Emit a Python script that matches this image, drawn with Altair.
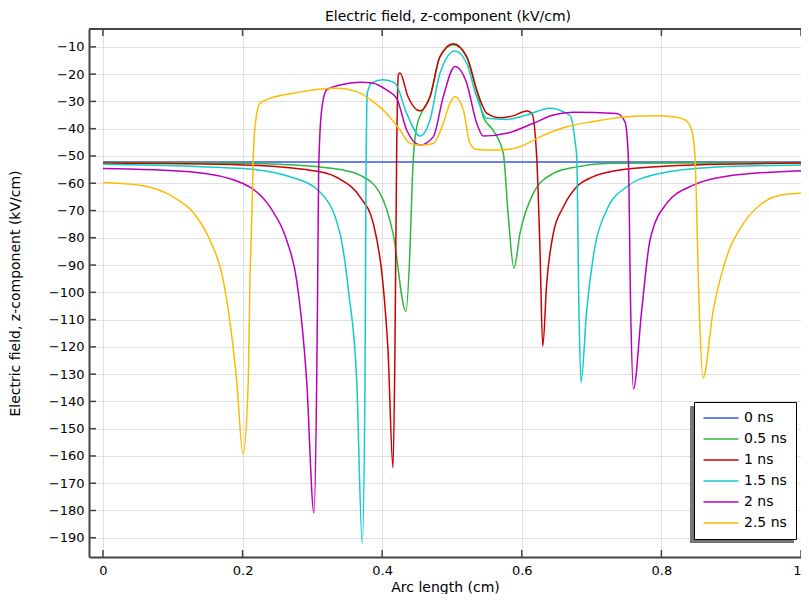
import altair as alt
import pandas as pd

series = ["0 ns", "0.5 ns", "1 ns", "1.5 ns", "2 ns", "2.5 ns"]
colors = ["#3355ee", "#2db83d", "#cc0000", "#11cccc", "#bb00bb", "#ffbb00"]

x_0 = [0.0, 0.5, 1.0]
y_0 = [-52.2, -52.2, -52.2]

x_05 = [0.0, 0.1, 0.2006, 0.31, 0.34, 0.368, 0.3968, 0.4155, 0.4341, 0.4398, 0.4437,
        0.4494, 0.4585, 0.4685, 0.4828, 0.5019, 0.5211, 0.5354, 0.5449, 0.5587, 0.5735,
        0.5807, 0.5888, 0.5974, 0.6165, 0.6452, 0.6787, 0.7264, 0.85, 1.0]
y_05 = [-52.4, -52.5, -52.7, -54.0, -55.0, -57.0, -63.6, -78.3, -107.0, -84.6, -55.0,
        -39.3, -33.1, -28.3, -13.6, -9.2, -13.8, -26.0, -35.7, -40.5, -49.0,
        -72.3, -91.2, -78.4, -63.7, -56.4, -54.0, -52.7, -52.6, -52.5]

x_1 = [0.0, 0.2006, 0.3109, 0.3395, 0.3682, 0.3872, 0.4011, 0.4083, 0.4155, 0.4183,
       0.4208, 0.4231, 0.4255, 0.437, 0.4542, 0.4685, 0.4828, 0.5019, 0.5211, 0.5354,
       0.5497, 0.5688, 0.5874, 0.607, 0.6142, 0.6213, 0.6261, 0.63, 0.6357, 0.6452,
       0.6595, 0.6787, 0.7024, 0.7503, 0.8457, 1.0]
y_1 = [-52.6, -53.3, -55.8, -58.5, -65.0, -74.7, -96.7, -121.0, -164.3, -121.0,
       -47.8, -20.3, -19.6, -28.3, -33.5, -28.3, -13.6, -8.9, -13.6, -25.8,
       -34.3, -36.0, -35.3, -33.5, -34.3, -50.0, -84.6, -119.8, -96.7, -78.3,
       -68.7, -61.3, -57.6, -54.8, -53.3, -52.6]

x_15 = [0.0, 0.2006, 0.2679, 0.3109, 0.3395, 0.352, 0.3635, 0.3715, 0.3754, 0.3768,
        0.3787, 0.385, 0.4011, 0.4183, 0.4351, 0.4542, 0.4685, 0.4828, 0.5043, 0.5211,
        0.5354, 0.5497, 0.5784, 0.607, 0.6404, 0.6595, 0.670, 0.6765, 0.6787, 0.6819,
        0.6848, 0.693, 0.7024, 0.7216, 0.7503, 0.798, 0.8696, 1.0]
y_15 = [-53.0, -54.6, -57.6, -63.2, -78.3, -100.0, -132.3, -192.0, -132.3, -58.9,
        -27.0, -23.3, -22.1, -23.3, -34.4, -42.7, -36.8, -19.7, -11.5, -16.0,
        -28.3, -36.2, -36.6, -35.0, -32.5, -33.8, -35.5, -45.0, -50.3, -106.6,
        -133.0, -106.6, -87.0, -69.9, -61.3, -56.4, -54.2, -53.3]

x_2 = [0.0, 0.1246, 0.2006, 0.2393, 0.2632, 0.2775, 0.2918, 0.3023, 0.3062, 0.3075,
       0.309, 0.3133, 0.3205, 0.3395, 0.3682, 0.3872, 0.4064, 0.4208, 0.4351, 0.4542,
       0.4732, 0.4875, 0.5043, 0.5211, 0.5354, 0.5449, 0.5784, 0.6165, 0.6452, 0.6738,
       0.736, 0.7479, 0.7526, 0.756, 0.760, 0.7718, 0.7837, 0.8076, 0.8457, 0.8935, 1.0]
y_2 = [-54.6, -55.8, -60.1, -68.7, -80.9, -95.6, -132.3, -180.9, -132.3, -100.0,
       -55.0, -33.1, -25.8, -24.0, -23.0, -23.3, -25.8, -28.9, -40.5, -46.0,
       -43.0, -28.3, -17.2, -23.3, -38.0, -42.7, -41.7, -38.0, -35.0, -34.0,
       -34.4, -37.5, -50.3, -106.6, -135.4, -106.6, -80.9, -67.4, -60.7, -57.4, -55.4]

x_25 = [0.0, 0.053, 0.1007, 0.1342, 0.1533, 0.1724, 0.1915, 0.2006, 0.2082, 0.2106,
        0.213, 0.2155, 0.2178, 0.2249, 0.2393, 0.2726, 0.3109, 0.3348, 0.3635, 0.3872,
        0.4064, 0.4255, 0.4398, 0.4542, 0.4732, 0.4875, 0.4971, 0.5043, 0.5162, 0.5258,
        0.5354, 0.5688, 0.5974, 0.6261, 0.6643, 0.7024, 0.7503, 0.7884, 0.8171, 0.8338,
        0.8434, 0.8481, 0.8543, 0.8596, 0.8743, 0.8935, 0.9173, 0.9413, 0.9699, 1.0]
y_25 = [-59.7, -60.7, -65.0, -72.3, -80.9, -95.6, -132.3, -159.3, -132.3, -95.6,
        -75.0, -50.0, -39.3, -30.7, -28.9, -27.0, -25.5, -25.2, -26.4, -30.1,
        -34.4, -40.5, -45.4, -46.0, -45.4, -38.0, -30.7, -28.3, -33.1, -45.4,
        -47.6, -47.8, -46.6, -43.0, -39.3, -37.4, -35.6, -35.3, -35.6, -36.8,
        -40.5, -50.3, -106.6, -131.5, -106.6, -87.0, -74.8, -68.0, -64.4, -63.7]

x_ticks = [0, 0.2, 0.4, 0.6, 0.8, 1.0]
y_ticks = [-10, -20, -30, -40, -50, -60, -70, -80, -90, -100, -110, -120, -130,
           -140, -150, -160, -170, -180, -190]

rows = []
for name, xs, ys in zip(series, [x_0, x_05, x_1, x_15, x_2, x_25],
                        [y_0, y_05, y_1, y_15, y_2, y_25]):
    for xv, yv in zip(xs, ys):
        rows.append({"series": name, "x": xv, "y": yv})
df = pd.DataFrame(rows)

W, H = 712, 528
FONT = "DejaVu Sans"
xscale = alt.Scale(domain=[-0.02, 1.0], nice=False, zero=False)
yscale = alt.Scale(domain=[-197.05, -3.45], nice=False, zero=False)

x_axis = alt.Axis(
    title="Arc length (cm)", values=x_ticks, format="~g", ticks=False,
    domainColor="#444", domainWidth=2, labelPadding=7, titlePadding=3,
    gridColor="#e0e0e0", labelFontSize=13, titleFontSize=14,
    labelColor="#000", titleColor="#000", titleFontWeight="normal",
    labelFont=FONT, titleFont=FONT)
y_axis = alt.Axis(
    title="Electric field, z-component (kV/cm)", values=y_ticks, ticks=False,
    domainColor="#444", domainWidth=2, labelPadding=5, titlePadding=26,
    gridColor="#e0e0e0", labelFontSize=13, titleFontSize=14,
    labelColor="#000", titleColor="#000", titleFontWeight="normal",
    labelFont=FONT, titleFont=FONT)

lines = alt.Chart(df).mark_line(strokeWidth=1.5, interpolate="monotone", clip=True).encode(
    x=alt.X("x:Q", scale=xscale, axis=x_axis),
    y=alt.Y("y:Q", scale=yscale, axis=y_axis),
    color=alt.Color("series:N", scale=alt.Scale(domain=series, range=colors),
                    legend=alt.Legend(
                        title=None, orient="none", legendX=605, legendY=373,
                        strokeColor="#000", fillColor="#fff", padding=9,
                        symbolType="M-5,0H5", symbolSize=49, symbolStrokeWidth=1.5,
                        symbolOffset=11, labelOffset=16, rowPadding=7,
                        labelFontSize=14, labelFont=FONT, labelColor="#000")),
)

xt = pd.DataFrame({"x": x_ticks})
yt = pd.DataFrame({"y": y_ticks})
one = pd.DataFrame({"a": [0]})

top_ticks = alt.Chart(xt).mark_rule(color="#444", strokeWidth=1.5).encode(
    x=alt.X("x:Q", scale=xscale, axis=x_axis), y=alt.value(0), y2=alt.value(7))
bottom_ticks = alt.Chart(xt).mark_rule(color="#444", strokeWidth=1.5).encode(
    x=alt.X("x:Q", scale=xscale, axis=x_axis), y=alt.value(H - 7), y2=alt.value(H))
left_ticks = alt.Chart(yt).mark_rule(color="#444", strokeWidth=1.5).encode(
    y=alt.Y("y:Q", scale=yscale, axis=y_axis), x=alt.value(0), x2=alt.value(7))
top_line = alt.Chart(one).mark_rule(color="#444", strokeWidth=2).encode(
    x=alt.value(0), x2=alt.value(W), y=alt.value(0))
shadow = alt.Chart(one).mark_rect(color="#777").encode(
    x=alt.value(601), x2=alt.value(705), y=alt.value(377), y2=alt.value(514))

chart = alt.layer(shadow, lines, top_ticks, bottom_ticks, left_ticks, top_line).properties(
    width=W, height=H,
    autosize=alt.AutoSizeParams(type="none"),
    padding={"left": 81, "top": 21, "right": 0, "bottom": 37},
    title=alt.TitleParams("Electric field, z-component (kV/cm)", fontSize=14,
                          fontWeight="normal", font=FONT, color="#000",
                          offset=4, dx=3, frame="group"),
).configure_view(stroke=None)

chart.save("out.html", embed_options={"renderer": "svg", "actions": False})
